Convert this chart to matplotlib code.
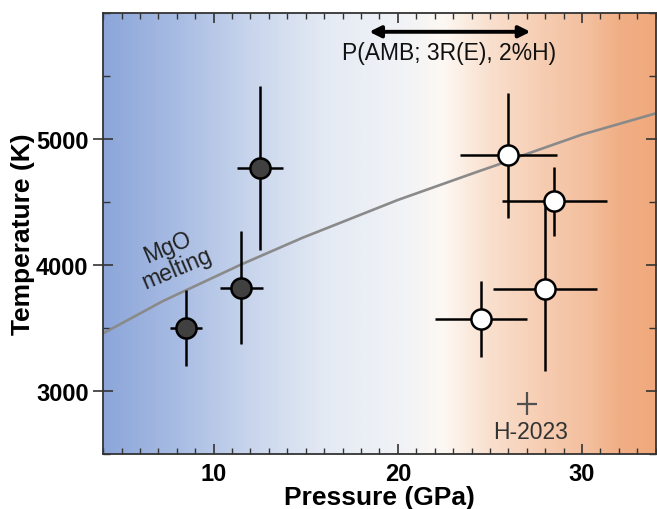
import numpy as np
import matplotlib
matplotlib.use("Agg")
import matplotlib.pyplot as plt
from matplotlib.colors import LinearSegmentedColormap
from matplotlib.ticker import MultipleLocator

plt.rcParams["font.family"] = ["Liberation Sans", "DejaVu Sans"]

# filled points (low pressure)
p_low = [8.5, 11.5, 12.5]
t_low = [3500, 3820, 4770]
p_low_err = [0.87, 1.16, 1.25]
t_low_err = [300, 450, 650]

# open points (high pressure)
p_high = [26.0, 28.5, 28.0, 24.5]
t_high = [4870, 4505, 3810, 3570]
p_high_err = [2.65, 2.86, 2.82, 2.5]
t_high_err = [495, 272, 655, 300]

# H-2023 reference point
p_h23, t_h23 = 27.0, 2900
p_h23_err, t_h23_err = 0.55, 88

# MgO melting curve
p_mgo = [4.0, 7.24, 11.48, 12.47, 14.81, 20.0, 24.32, 25.41, 26.49, 30.0, 33.9, 34.0]
t_mgo = [3457, 3713, 4003, 4066, 4215, 4516, 4740, 4795, 4855, 5035, 5199, 5203]

# background gradient colour stops (pressure, colour)
bg_p = [4, 8, 12, 16, 20, 22.5, 25, 28, 30.5, 32, 34]
bg_c = ["#8CA6DA", "#A8BCE3", "#C8D5EC", "#E4EAF4", "#F0F2F6", "#FDF8F3",
        "#F9E0CE", "#F6CCB1", "#F3BE9C", "#F1AF86", "#F0A97C"]

fig = plt.figure(figsize=(6.57, 5.10), dpi=100)
ax = fig.add_axes([0.157, 0.108, 0.841, 0.8645])

xmin, xmax = 4, 34
ymin, ymax = 2500, 6000

stops = [(p - xmin) / (xmax - xmin) for p in bg_p]
cmap = LinearSegmentedColormap.from_list("bg", list(zip(stops, bg_c)))
grad = np.linspace(0, 1, 512).reshape(1, -1)
ax.imshow(grad, cmap=cmap, aspect="auto", extent=[xmin, xmax, ymin, ymax],
          zorder=0, interpolation="bilinear")

ax.plot(p_mgo, t_mgo, color="#8a8a8a", lw=1.9, zorder=2)

ax.errorbar(p_low, t_low, xerr=p_low_err, yerr=t_low_err, fmt="o",
            ms=14.5, mfc="#404040", mec="black", mew=1.8,
            ecolor="black", elinewidth=1.8, capsize=0, zorder=3)
ax.errorbar(p_high, t_high, xerr=p_high_err, yerr=t_high_err, fmt="o",
            ms=14.5, mfc="white", mec="black", mew=1.8,
            ecolor="black", elinewidth=1.8, capsize=0, zorder=3)
ax.errorbar([p_h23], [t_h23], xerr=[p_h23_err], yerr=[t_h23_err], fmt="none",
            ecolor="#505050", elinewidth=1.6, capsize=0, zorder=3)
ax.text(p_h23 + 0.2, 2680, "H-2023", ha="center", va="center",
        fontsize=16.5, color="#333333")

ax.annotate("", xy=(27.2, 5851), xytext=(18.45, 5851),
            arrowprops=dict(arrowstyle="<|-|>", color="black", lw=2.8,
                            mutation_scale=17, shrinkA=0, shrinkB=0))
ax.text(22.8, 5690, "P(AMB; 3R(E), 2%H)", ha="center", va="center",
        fontsize=16.5, color="#111111")

ax.text(7.75, 4060, "MgO\nmelting", rotation=23, ha="center", va="center",
        fontsize=16.5, color="#222222", linespacing=1.0,
        rotation_mode="anchor")

ax.set_xlim(xmin, xmax)
ax.set_ylim(ymin, ymax)
ax.set_xticks([10, 20, 30])
ax.set_yticks([3000, 4000, 5000])
ax.xaxis.set_minor_locator(MultipleLocator(1))
ax.yaxis.set_minor_locator(MultipleLocator(500))
ax.tick_params(axis="x", which="both", direction="in", top=True, bottom=True,
               color="#333333")
ax.tick_params(axis="x", which="major", length=7, width=1.2, pad=6)
ax.tick_params(axis="x", which="minor", length=4, width=1.0)
ax.tick_params(axis="y", which="major", direction="inout", length=14, width=1.2,
               left=True, right=True, color="#333333")
ax.tick_params(axis="y", which="minor", direction="in", length=5, width=1.0,
               left=True, right=True, color="#333333")
ax.tick_params(labelsize=17)
for lab in ax.get_xticklabels() + ax.get_yticklabels():
    lab.set_fontweight("bold")
for s in ax.spines.values():
    s.set_color("#333333")
    s.set_linewidth(1.3)

ax.set_xlabel("Pressure (GPa)", fontsize=19, fontweight="bold", labelpad=0)
ax.set_ylabel("Temperature (K)", fontsize=19, fontweight="bold", labelpad=1)

fig.savefig("out.png", dpi=100)
